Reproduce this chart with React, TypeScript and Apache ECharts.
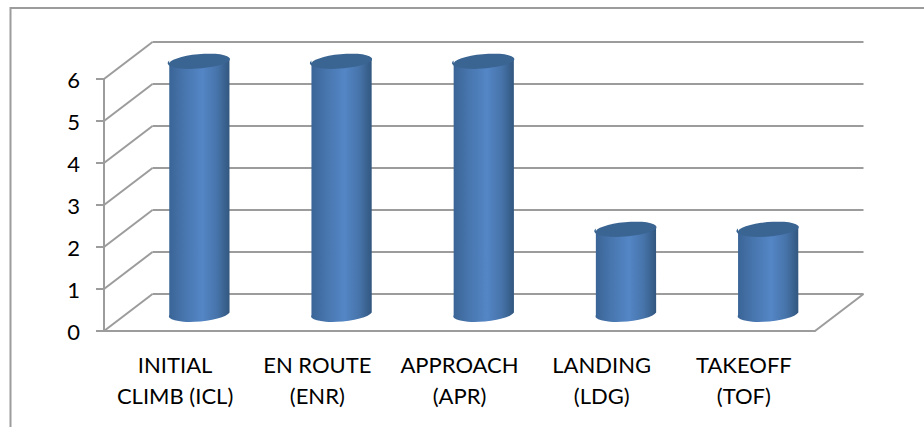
import React, { useEffect, useRef } from "react";
import * as echarts from "echarts";

const categories = ["INITIAL\nCLIMB (ICL)", "EN ROUTE\n(ENR)", "APPROACH\n(APR)", "LANDING\n(LDG)", "TAKEOFF\n(TOF)"];
const accidents = [6, 6, 6, 2, 2];
const yTicks = [0, 1, 2, 3, 4, 5, 6];

// Oblique projection of the 3D box: how far the back wall sits from the front plane.
const DEPTH_X = 48.5;
const DEPTH_Y = -37;
const RIGHT_END = 815;
const GRID_COLOR = "#9C9C9C";
const FONT = "Lato, 'Open Sans', sans-serif";

// Cylinder geometry
const RADIUS_X = 30.2;
const RADIUS_Y = 7.6;
const TILT_DEG = -4.8;

function renderWalls(_params: any, api: any) {
  const value = api.value(0);
  const [fx, fy] = api.coord([0, value]);
  const x0 = fx - api.size([1, 0])[0] / 2;
  const bx = x0 + DEPTH_X;
  const by = fy + DEPTH_Y;
  const lineStyle = { stroke: GRID_COLOR, lineWidth: 2, fill: null };
  const children: any[] = [
    { type: "line", shape: { x1: x0, y1: fy, x2: bx, y2: by }, style: lineStyle },
    { type: "line", shape: { x1: bx, y1: by, x2: RIGHT_END + DEPTH_X, y2: by }, style: lineStyle },
  ];
  if (value === 0) {
    children.push({
      type: "line",
      shape: { x1: RIGHT_END, y1: fy, x2: RIGHT_END + DEPTH_X, y2: by },
      style: lineStyle,
    });
  }
  return { type: "group", children };
}

function renderCylinder(_params: any, api: any) {
  const idx = api.value(0);
  const [cx0, base0] = api.coord([idx, 0]);
  const [, top0] = api.coord([idx, api.value(1)]);
  const cx = cx0 + DEPTH_X / 2;
  const baseY = base0 + DEPTH_Y / 2;
  const topY = top0 + DEPTH_Y / 2;
  const t = (TILT_DEG * Math.PI) / 180;
  const ex = RADIUS_X * Math.cos(t);
  const ey = RADIUS_X * Math.sin(t);
  const body =
    `M ${cx - ex} ${topY - ey} L ${cx - ex} ${baseY - ey} ` +
    `A ${RADIUS_X} ${RADIUS_Y} ${TILT_DEG} 0 0 ${cx + ex} ${baseY + ey} ` +
    `L ${cx + ex} ${topY + ey} Z`;
  const cap =
    `M ${cx - ex} ${topY - ey} ` +
    `A ${RADIUS_X} ${RADIUS_Y} ${TILT_DEG} 1 1 ${cx + ex} ${topY + ey} ` +
    `A ${RADIUS_X} ${RADIUS_Y} ${TILT_DEG} 1 1 ${cx - ex} ${topY - ey} Z`;
  return {
    type: "group",
    children: [
      {
        type: "path",
        shape: { pathData: body },
        style: {
          fill: new echarts.graphic.LinearGradient(0, 0, 1, 0, [
            { offset: 0, color: "#3A6496" },
            { offset: 0.25, color: "#4775AD" },
            { offset: 0.55, color: "#5486C6" },
            { offset: 0.8, color: "#4673A9" },
            { offset: 1, color: "#32577F" },
          ]),
        },
      },
      { type: "path", shape: { pathData: cap }, style: { fill: "#3A6593" } },
    ],
  };
}

export default function App() {
  const ref = useRef<HTMLDivElement>(null);

  useEffect(() => {
    document.body.style.margin = "0";
    const chart = echarts.init(ref.current!, null, { renderer: "svg" });
    chart.setOption({
      animation: false,
      backgroundColor: "#FFFFFF",
      grid: { left: 104, top: 79, width: RIGHT_END - 104, height: 252 },
      graphic: [
        {
          type: "polyline",
          shape: { points: [[10.5, 427], [10.5, 8], [924, 8]] },
          style: { stroke: GRID_COLOR, lineWidth: 2, fill: null },
        },
      ],
      xAxis: {
        type: "category",
        data: categories,
        axisLine: { lineStyle: { color: GRID_COLOR, width: 2 } },
        axisTick: { length: 7, lineStyle: { color: GRID_COLOR, width: 2 } },
        axisLabel: { color: "#000000", fontFamily: FONT, fontSize: 22, lineHeight: 31, margin: 18, interval: 0 },
      },
      yAxis: {
        type: "value",
        min: 0,
        max: 6,
        interval: 1,
        splitLine: { show: false },
        axisLine: { show: true, lineStyle: { color: GRID_COLOR, width: 2 } },
        axisTick: { show: true, length: 8, lineStyle: { color: GRID_COLOR, width: 2 } },
        axisLabel: { color: "#000000", fontFamily: FONT, fontSize: 22, margin: 24 },
      },
      series: [
        {
          type: "custom",
          renderItem: renderWalls,
          data: yTicks.map((v) => [v]),
          encode: { y: 0 },
          clip: false,
          silent: true,
          z: 1,
        },
        {
          type: "custom",
          renderItem: renderCylinder,
          data: accidents.map((v, i) => [i, v]),
          encode: { x: 0, y: 1 },
          clip: false,
          z: 2,
        },
      ],
    });
    return () => chart.dispose();
  }, []);

  return <div ref={ref} style={{ width: 924, height: 427 }} />;
}
